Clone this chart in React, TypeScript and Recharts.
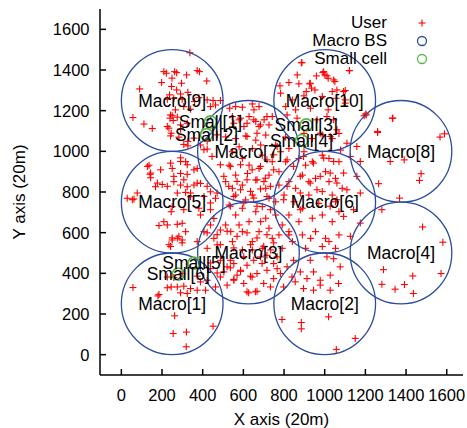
import { ScatterChart, Scatter, XAxis, YAxis, Legend, LabelList } from 'recharts';

const FONT = '"Liberation Sans", Arial, Helvetica, sans-serif';
const RED = '#ff0000';
const BLUE = '#2b4c9e';
const GREEN = '#5cb845';

const TICKS = [0, 200, 400, 600, 800, 1000, 1200, 1400, 1600];
const X_DOMAIN = [-105, 1680];
const Y_DOMAIN = [-100, 1700];

// macro base stations (hex layout), radius in the same 20m units
const MACRO_NAMES = ['Macro[1]', 'Macro[2]', 'Macro[3]', 'Macro[4]', 'Macro[5]', 'Macro[6]', 'Macro[7]', 'Macro[8]', 'Macro[9]', 'Macro[10]'];
const MACRO_X = [250, 1000, 625, 1375, 250, 1000, 625, 1375, 250, 1000];
const MACRO_Y = [250, 250, 500, 500, 750, 750, 1000, 1000, 1250, 1250];
const MACRO_RADIUS = 250;

const SMALL_NAMES = ['Small[1]', 'Small[2]', 'Small[3]', 'Small[4]', 'Small[5]', 'Small[6]'];
const SMALL_X = [438, 419, 909, 886, 357, 280];
const SMALL_Y = [1145, 1082, 1130, 1053, 450, 396];

const USERS: [number, number][] = [
  // Macro[9]
  [337, 1485], [209, 1392], [221, 1384], [262, 1392], [272, 1387], [321, 1376], [373, 1397], [384, 1392],
  [420, 1346], [198, 1338], [249, 1360], [296, 1335], [90, 1307], [247, 1319], [237, 1278], [272, 1302],
  [291, 1282], [327, 1290], [258, 1261], [226, 1256], [299, 1256], [360, 1245], [381, 1264], [422, 1253],
  [451, 1250], [487, 1250], [438, 1220], [463, 1228], [57, 1166], [111, 1134], [152, 1112], [239, 1163],
  [250, 1175], [234, 1114], [291, 1130], [324, 1138], [266, 1204], [307, 1220], [340, 1207],
  // Macro[10]
  [885, 1436], [865, 1376], [991, 1387], [1001, 1376], [1017, 1359], [1050, 1343], [824, 1338], [780, 1322],
  [873, 1332], [926, 1332], [935, 1311], [909, 1294], [952, 1302], [898, 1273], [783, 1286], [988, 1270],
  [1037, 1294], [841, 1253], [1056, 1261], [808, 1220], [857, 1204], [930, 1212], [1017, 1204],
  [888, 1436], [1122, 1397], [995, 1392], [1011, 1371], [1044, 1351], [929, 1335], [959, 1371],
  [1060, 1302], [1093, 1294], [1101, 1237], [1101, 1299], [1101, 1253], [1194, 1175], [1202, 1184],
  // Macro[7] top
  [533, 1212], [562, 1220], [595, 1217], [644, 1233], [652, 1204], [677, 1220], [546, 1171], [579, 1155],
  [628, 1171], [661, 1147], [702, 1155], [726, 1130], [603, 1122], [677, 1122], [742, 1171],
  [242, 1179], [275, 1168], [255, 1152], [226, 1122], [291, 1109], [245, 1089], [283, 1070], [327, 1049],
  [357, 1065], [422, 1049], [471, 1081], [553, 1138], [586, 1163], [618, 1138], [651, 1155], [684, 1130],
  [716, 1171], [667, 1089], [618, 1073], [815, 1179], [864, 1163], [962, 1155], [1011, 1171], [1044, 1155],
  [978, 1089], [1027, 1073], [1060, 1106],
  // Macro[7] lower
  [406, 1008], [446, 975], [487, 934], [536, 926], [586, 934], [643, 909], [684, 926], [716, 958],
  [749, 983], [766, 1024], [504, 877], [569, 852], [618, 860], [667, 860], [708, 868], [749, 909],
  [528, 828], [586, 811], [635, 803], [684, 815], [733, 828], [471, 795], [553, 778], [651, 770],
  [716, 778], [438, 746], [536, 730], [602, 746], [667, 730], [733, 713],
  [513, 1071], [562, 1063], [612, 1076], [661, 1055], [710, 1080], [759, 1031], [808, 1071], [824, 1014],
  [898, 1088], [939, 1063], [988, 1080], [1037, 1063], [1070, 1088],
  [546, 998], [644, 1014], [595, 965], [693, 981], [742, 949], [530, 932], [628, 932], [677, 916],
  [726, 883], [562, 883], [775, 900], [808, 949], [513, 851], [595, 834], [661, 859], [710, 818],
  [775, 834], [824, 851],
  [579, 1022], [685, 1031], [783, 998], [620, 891], [701, 851], [546, 818], [800, 785], [611, 761],
  // Macro[5]
  [128, 926], [144, 893], [193, 909], [242, 942], [291, 950], [324, 934], [258, 877], [307, 860],
  [357, 909], [373, 844], [422, 828], [226, 828], [177, 844], [54, 762], [78, 795], [275, 795],
  [340, 795], [406, 778], [438, 713], [307, 713],
  [242, 1076], [307, 1034], [327, 1027], [389, 1031], [422, 1011], [136, 932], [141, 887], [144, 870],
  [291, 968], [316, 949], [250, 916], [291, 891], [324, 887], [373, 916], [258, 851], [168, 826],
  [201, 837], [291, 834], [324, 826], [357, 834], [389, 842], [29, 769], [62, 766], [316, 798],
  [340, 777], [250, 728], [245, 703], [209, 654], [185, 635], [226, 638], [275, 641], [299, 646],
  [316, 605], [275, 572], [250, 564], [299, 564], [242, 532], [406, 605], [373, 556], [422, 523],
  [455, 572], [471, 540], [487, 613], [438, 638], [381, 720], [389, 687], [455, 670], [463, 769],
  [438, 801],
  // Macro[6]
  [815, 958], [847, 926], [896, 975], [945, 942], [995, 967], [1044, 950], [880, 877], [929, 844],
  [978, 877], [1027, 893], [1060, 844], [815, 828], [880, 795], [962, 811], [798, 762], [880, 713],
  [1027, 730], [1060, 762],
  [873, 965], [906, 932], [939, 949], [988, 981], [1021, 965], [1070, 949], [890, 883], [955, 867],
  [1004, 900], [1053, 867], [857, 818], [922, 785], [988, 802], [1037, 785], [1086, 818], [890, 720],
  [824, 687], [873, 654], [939, 671], [988, 687], [1037, 654], [1070, 703], [824, 605], [890, 589],
  [955, 605], [1004, 572], [1070, 589], [906, 523], [988, 532], [1053, 523],
  [1109, 1040], [1158, 1024], [1126, 975], [1175, 950], [1093, 893], [1158, 877], [1109, 811], [1175, 795],
  [1142, 713], [1093, 680], [1175, 647], [1126, 582],
  [841, 556], [931, 572], [1021, 556], [849, 752], [971, 744], [1053, 752], [922, 851], [1021, 851],
  [898, 998], [1078, 1006],
  // Macro[3] (upper part)
  [562, 785], [644, 785], [726, 769], [530, 736], [595, 720], [693, 728], [759, 752], [661, 703],
  [628, 654], [562, 687], [513, 638], [710, 671], [759, 687], [791, 638], [677, 605], [595, 605],
  [742, 572], [546, 556], [644, 556], [824, 589], [791, 523], [693, 523], [595, 515],
  [685, 654], [726, 622], [579, 638], [538, 605], [775, 589], [644, 515], [734, 515],
  // Macro[8]
  [1335, 1163], [1260, 1093], [1567, 1070], [1589, 1086], [1322, 950], [1391, 958], [1474, 890], [1466, 857],
  [1265, 841], [1368, 770], [1281, 713], [1481, 628], [1581, 553], [1204, 1179], [1333, 1163], [1260, 1098],
  [1121, 1397],
  // Macro[1]
  [57, 330], [180, 289], [262, 191], [255, 104], [320, 111], [319, 39], [451, 140],
  [245, 333], [275, 333], [307, 337], [340, 325], [373, 317], [414, 317], [291, 304], [324, 301],
  [226, 382], [258, 379], [299, 399], [373, 386], [389, 358], [422, 366], [438, 423], [185, 296],
  [226, 329], [250, 574], [283, 582], [299, 550], [234, 541],
  // Macro[3] (lower part)
  [487, 464], [520, 432], [553, 448], [586, 415], [618, 440], [651, 464], [667, 399], [716, 415],
  [749, 448], [782, 399], [815, 432], [847, 464], [487, 382], [520, 342], [553, 366], [602, 350],
  [643, 382], [618, 309], [659, 309], [700, 350], [749, 374], [798, 333], [766, 481], [684, 481],
  [422, 599], [471, 590], [520, 607], [569, 582], [618, 599], [667, 574], [716, 590], [749, 550],
  [487, 541], [553, 525], [635, 541], [700, 533], [438, 451], [471, 402], [553, 370], [586, 410],
  [635, 386], [667, 312], [626, 304], [536, 427],
  [504, 407], [569, 391], [536, 464], [692, 448], [733, 333], [766, 423], [839, 382], [463, 333],
  [602, 481], [716, 489],
  // Macro[2]
  [880, 407], [913, 374], [945, 407], [978, 366], [1027, 391], [1076, 432], [1044, 472], [1011, 481],
  [896, 325], [945, 317], [978, 342], [1027, 317], [1068, 350], [855, 358], [929, 464], [790, 173],
  [885, 158], [885, 127], [1019, 186], [1150, 80], [1057, 26],
  // Macro[4]
  [1289, 418], [1281, 346], [1346, 322], [1392, 345], [1433, 387], [1436, 301], [1572, 399],
];

const userData = USERS.map(([x, y]) => ({ x, y }));
const macroData = MACRO_NAMES.map((name, i) => ({ name, x: MACRO_X[i], y: MACRO_Y[i] }));
const smallData = SMALL_NAMES.map((name, i) => ({ name, x: SMALL_X[i], y: SMALL_Y[i] }));

const W = 467;
const H = 428;
const MARGIN = { top: 9, right: 4, bottom: 0, left: 0 };
const X_AXIS_H = 53;
const PLOT_H = H - MARGIN.top - MARGIN.bottom - X_AXIS_H;
const MACRO_R_PX = (MACRO_RADIUS * PLOT_H) / (Y_DOMAIN[1] - Y_DOMAIN[0]);

const PlusShape = (p: any) => (
  <g>
    <line x1={p.cx - 3.5} x2={p.cx + 3.5} y1={p.cy} y2={p.cy} stroke={RED} strokeWidth={1.1} />
    <line x1={p.cx} x2={p.cx} y1={p.cy - 3.5} y2={p.cy + 3.5} stroke={RED} strokeWidth={1.1} />
  </g>
);

const MacroShape = (p: any) => (
  <circle cx={p.cx} cy={p.cy} r={MACRO_R_PX} fill="none" stroke={BLUE} strokeWidth={1.3} />
);

const SmallShape = (p: any) => (
  <circle cx={p.cx} cy={p.cy} r={6} fill="none" stroke={GREEN} strokeWidth={1.6} />
);

const legendRows = [
  { label: 'User', kind: 'user' },
  { label: 'Macro BS', kind: 'macro' },
  { label: 'Small cell', kind: 'small' },
];

const LegendBox = () => (
  <div style={{ fontFamily: FONT, fontSize: 17, color: '#000' }}>
    {legendRows.map((r) => (
      <div key={r.label} style={{ display: 'flex', alignItems: 'center', height: 18 }}>
        <span style={{ width: 87, textAlign: 'right', whiteSpace: 'nowrap' }}>{r.label}</span>
        <svg width={14} height={14} style={{ marginLeft: 28 }}>
          {r.kind === 'user' ? (
            <g>
              <line x1={3.5} x2={10.5} y1={7} y2={7} stroke={RED} strokeWidth={1.1} />
              <line x1={7} x2={7} y1={3.5} y2={10.5} stroke={RED} strokeWidth={1.1} />
            </g>
          ) : (
            <circle cx={7} cy={7} r={4.5} fill="none" stroke={r.kind === 'macro' ? BLUE : GREEN} strokeWidth={1.3} />
          )}
        </svg>
      </div>
    ))}
  </div>
);

const axisProps = {
  type: 'number' as const,
  ticks: TICKS,
  allowDataOverflow: true,
  interval: 0 as const,
  tickSize: -6,
  stroke: '#000',
  strokeWidth: 1.5,
};

const tickStyle = { fill: '#000', fontSize: 16.5, fontFamily: FONT };

export default function App() {
  return (
    <div style={{ position: 'absolute', left: 0, top: 0, background: '#fff' }}>
      <ScatterChart width={W} height={H} margin={MARGIN}>
        <XAxis
          {...axisProps}
          xAxisId="b"
          dataKey="x"
          domain={X_DOMAIN}
          height={X_AXIS_H}
          tickMargin={20}
          tick={tickStyle}
          label={{ value: 'X axis (20m)', position: 'insideBottom', offset: 3.5, fill: '#000', fontSize: 17, fontFamily: FONT }}
        />
        <XAxis {...axisProps} xAxisId="t" orientation="top" dataKey="x" domain={X_DOMAIN} height={0} tick={false} />
        <YAxis
          {...axisProps}
          yAxisId="l"
          dataKey="y"
          domain={Y_DOMAIN}
          width={100}
          tickMargin={16.5}
          tick={tickStyle}
          label={(props: any) => {
            const vb = props.viewBox || { x: 0, y: MARGIN.top, height: PLOT_H };
            const cy = vb.y + vb.height / 2;
            return (
              <text x={24.5} y={cy} transform={`rotate(-90 24.5 ${cy})`} textAnchor="middle" fill="#000" fontSize={17} fontFamily={FONT}>
                Y axis (20m)
              </text>
            );
          }}
        />
        <YAxis {...axisProps} yAxisId="r" orientation="right" dataKey="y" domain={Y_DOMAIN} width={0} tick={false} />
        <Legend
          layout="vertical"
          align="center"
          verticalAlign="middle"
          content={<LegendBox />}
          wrapperStyle={{ position: 'absolute', left: 300, top: 14, width: 140 }}
        />
        <Scatter name="User" data={userData} xAxisId="b" yAxisId="l" shape={PlusShape} isAnimationActive={false} />
        <Scatter name="Macro BS" data={macroData} xAxisId="b" yAxisId="l" shape={MacroShape} isAnimationActive={false}>
          <LabelList dataKey="name" position="center" fill="#000" fontSize={17.5} fontFamily={FONT} />
        </Scatter>
        <Scatter name="Small cell" data={smallData} xAxisId="b" yAxisId="l" shape={SmallShape} isAnimationActive={false}>
          <LabelList dataKey="name" position="center" fill="#000" fontSize={17.5} fontFamily={FONT} />
        </Scatter>
      </ScatterChart>
    </div>
  );
}
